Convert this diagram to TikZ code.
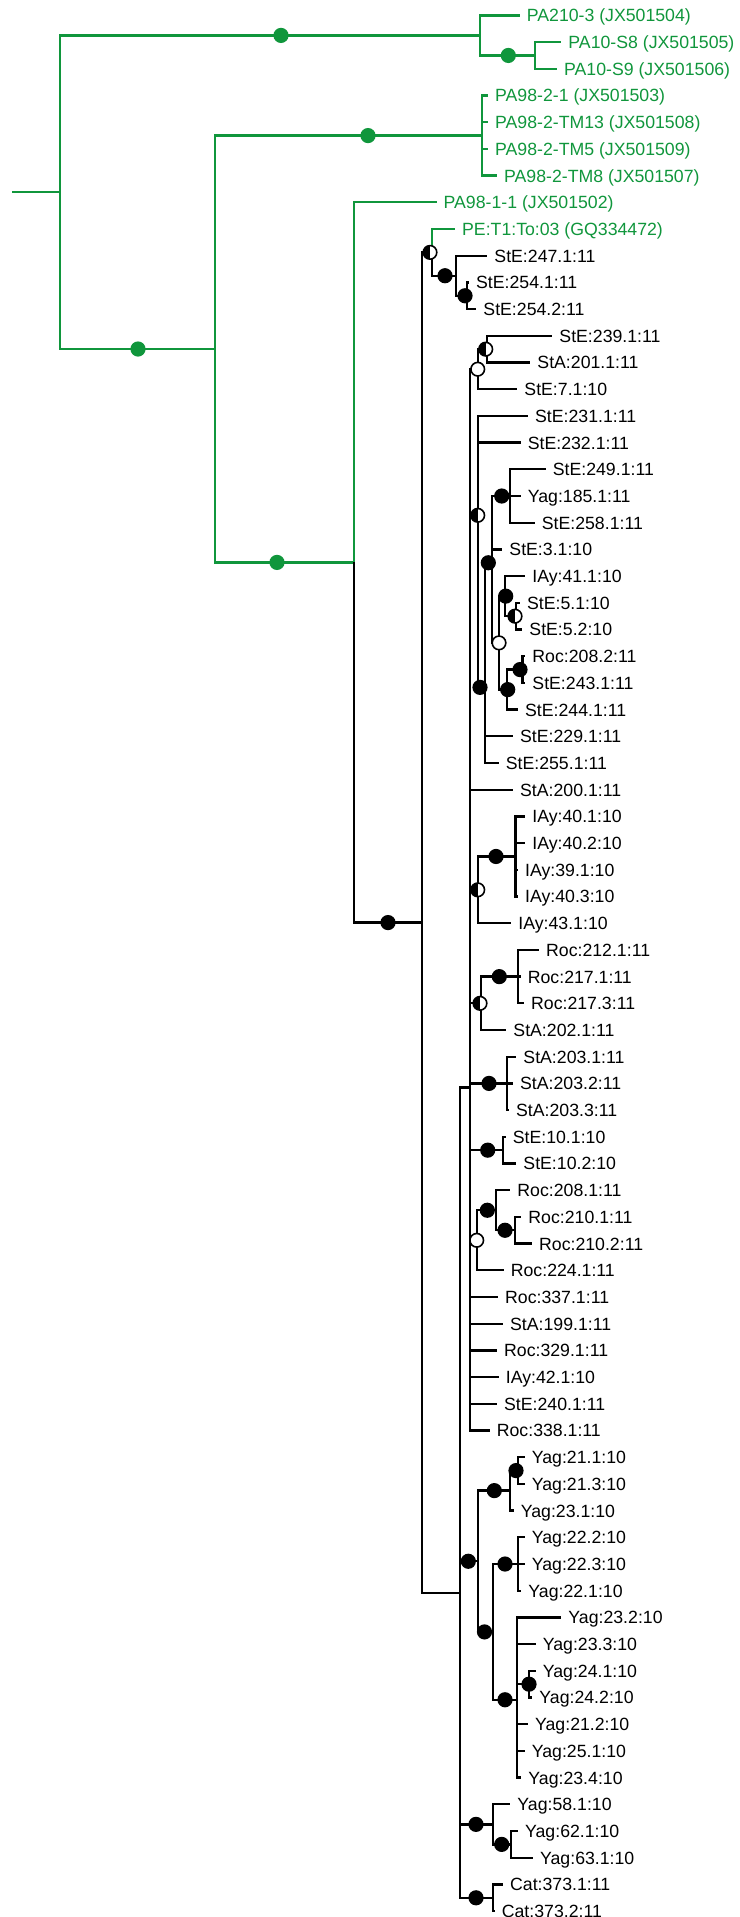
\documentclass[tikz,border=0pt]{standalone}
\usepackage{fontspec}
\setmainfont{Liberation Sans}
\definecolor{tgreen}{RGB}{16,150,60}

\begin{document}
\begin{tikzpicture}[x=0.5pt, y=-13.35pt, line width=1.15pt,
		gbr/.style={draw=tgreen},
		lf/.style={anchor=west, inner xsep=3pt, inner ysep=0pt, text height=6.4pt, text depth=0pt, font=\fontsize{8.85}{10}\selectfont},
		glf/.style={lf, text=tgreen},
		bdot/.style={circle, fill=black, inner sep=0pt, minimum size=7.6pt},
		wdot/.style={circle, draw=black, line width=0.8pt, fill=white, inner sep=0pt, minimum size=6.8pt},
		hdot/.style={wdot, path picture={\fill[black] (path picture bounding box.south) rectangle (path picture bounding box.north west);}},
		gdot/.style={circle, fill=tgreen, inner sep=0pt, minimum size=7.6pt}]
		\useasboundingbox (0,-0.577) rectangle (739,71.22);
		% internal nodes (x in px, y in rows)
		\coordinate (base) at (12,6.622);
		\coordinate (root) at (60,6.622);
		\coordinate (g1)   at (480,0.75);
		\coordinate (n10)  at (535,1.5);
		\coordinate (gm)   at (215,12.494);
		\coordinate (g2)   at (481.7,4.5);
		\coordinate (gb)   at (354,20.487);
		\coordinate (m)    at (421.7,33.975);
		\coordinate (p)    at (431.7,8.875);
		\coordinate (q)    at (456,9.75);
		\coordinate (r)    at (466.7,10.5);
		\coordinate (nbig) at (460,59.074);
		\coordinate (poly) at (470,40.15);
		\coordinate (a)    at (477.7,13.25);
		\coordinate (b)    at (486.7,12.5);
		\coordinate (c)    at (477.7,18.722);
		\coordinate (h)    at (485,25.167);
		\coordinate (i)    at (492,20.5);
		\coordinate (d)    at (510,18);
		\coordinate (j)    at (499,23.5);
		\coordinate (f)    at (505,21.75);
		\coordinate (mp)   at (516,22.5);
		\coordinate (k)    at (506.7,25.25);
		\coordinate (lp)   at (522.5,24.5);
		\coordinate (s)    at (477.7,32.75);
		\coordinate (t40)  at (515.5,31.5);
		\coordinate (u)    at (480.7,37);
		\coordinate (t)    at (518.3,36);
		\coordinate (st203) at (506.7,40);
		\coordinate (st10) at (503.3,42.5);
		\coordinate (w)    at (477.3,45.875);
		\coordinate (v)    at (496,44.75);
		\coordinate (ro210) at (515,45.5);
		\coordinate (bb)   at (478.3,57.896);
		\coordinate (x)    at (510,55.25);
		\coordinate (y21)  at (518.3,54.5);
		\coordinate (aa)   at (492.7,60.542);
		\coordinate (y22)  at (518.3,58);
		\coordinate (z)    at (517.3,63.083);
		\coordinate (y24)  at (529.3,62.5);
		\coordinate (cc)   at (492.7,67.75);
		\coordinate (dd)   at (511,68.5);
		\coordinate (cat)  at (493.3,70.5);
		% leaves
		\node[glf] (l0) at (519.7,0) {PA210-3 (JX501504)};
		\node[glf] (l1) at (561.3,1) {PA10-S8 (JX501505)};
		\node[glf] (l2) at (557,2) {PA10-S9 (JX501506)};
		\node[glf] (l3) at (488,3) {PA98-2-1 (JX501503)};
		\node[glf] (l4) at (488,4) {PA98-2-TM13 (JX501508)};
		\node[glf] (l5) at (488,5) {PA98-2-TM5 (JX501509)};
		\node[glf] (l6) at (497,6) {PA98-2-TM8 (JX501507)};
		\node[glf] (l7) at (436.5,7) {PA98-1-1 (JX501502)};
		\node[glf] (l8) at (455,8) {PE:T1:To:03 (GQ334472)};
		\node[lf] (l9)  at (487.3,9)  {StE:247.1:11};
		\node[lf] (l10) at (469,10)   {StE:254.1:11};
		\node[lf] (l11) at (476.3,11) {StE:254.2:11};
		\node[lf] (l12) at (552.3,12) {StE:239.1:11};
		\node[lf] (l13) at (530.3,13) {StA:201.1:11};
		\node[lf] (l14) at (517.3,14) {StE:7.1:10};
		\node[lf] (l15) at (528,15)   {StE:231.1:11};
		\node[lf] (l16) at (520.7,16) {StE:232.1:11};
		\node[lf] (l17) at (545.7,17) {StE:249.1:11};
		\node[lf] (l18) at (520.7,18) {Yag:185.1:11};
		\node[lf] (l19) at (534.7,19) {StE:258.1:11};
		\node[lf] (l20) at (502.3,20) {StE:3.1:10};
		\node[lf] (l21) at (525.3,21) {IAy:41.1:10};
		\node[lf] (l22) at (520,22)   {StE:5.1:10};
		\node[lf] (l23) at (522.3,23) {StE:5.2:10};
		\node[lf] (l24) at (525.3,24) {Roc:208.2:11};
		\node[lf] (l25) at (525.3,25) {StE:243.1:11};
		\node[lf] (l26) at (518,26)   {StE:244.1:11};
		\node[lf] (l27) at (513,27)   {StE:229.1:11};
		\node[lf] (l28) at (498.7,28) {StE:255.1:11};
		\node[lf] (l29) at (513,29)   {StA:200.1:11};
		\node[lf] (l30) at (525.3,30) {IAy:40.1:10};
		\node[lf] (l31) at (525.3,31) {IAy:40.2:10};
		\node[lf] (l32) at (518,32)   {IAy:39.1:10};
		\node[lf] (l33) at (518,33)   {IAy:40.3:10};
		\node[lf] (l34) at (511.3,34) {IAy:43.1:10};
		\node[lf] (l35) at (539,35)   {Roc:212.1:11};
		\node[lf] (l36) at (520.7,36) {Roc:217.1:11};
		\node[lf] (l37) at (524,37)   {Roc:217.3:11};
		\node[lf] (l38) at (506.3,38) {StA:202.1:11};
		\node[lf] (l39) at (516.3,39) {StA:203.1:11};
		\node[lf] (l40) at (513,40)   {StA:203.2:11};
		\node[lf] (l41) at (509,41)   {StA:203.3:11};
		\node[lf] (l42) at (505.7,42) {StE:10.1:10};
		\node[lf] (l43) at (516.3,43) {StE:10.2:10};
		\node[lf] (l44) at (510.3,44) {Roc:208.1:11};
		\node[lf] (l45) at (521.3,45) {Roc:210.1:11};
		\node[lf] (l46) at (532,46)   {Roc:210.2:11};
		\node[lf] (l47) at (503.7,47) {Roc:224.1:11};
		\node[lf] (l48) at (498,48)   {Roc:337.1:11};
		\node[lf] (l49) at (503,49)   {StA:199.1:11};
		\node[lf] (l50) at (497,50)   {Roc:329.1:11};
		\node[lf] (l51) at (498.7,51) {IAy:42.1:10};
		\node[lf] (l52) at (497,52)   {StE:240.1:11};
		\node[lf] (l53) at (489.7,53) {Roc:338.1:11};
		\node[lf] (l54) at (524.7,54) {Yag:21.1:10};
		\node[lf] (l55) at (524.7,55) {Yag:21.3:10};
		\node[lf] (l56) at (513.7,56) {Yag:23.1:10};
		\node[lf] (l57) at (524.7,57) {Yag:22.2:10};
		\node[lf] (l58) at (524.7,58) {Yag:22.3:10};
		\node[lf] (l59) at (521.3,59) {Yag:22.1:10};
		\node[lf] (l60) at (561.3,60) {Yag:23.2:10};
		\node[lf] (l61) at (535.7,61) {Yag:23.3:10};
		\node[lf] (l62) at (535.7,62) {Yag:24.1:10};
		\node[lf] (l63) at (532.3,63) {Yag:24.2:10};
		\node[lf] (l64) at (528,64)   {Yag:21.2:10};
		\node[lf] (l65) at (524.7,65) {Yag:25.1:10};
		\node[lf] (l66) at (521.3,66) {Yag:23.4:10};
		\node[lf] (l67) at (510.3,67) {Yag:58.1:10};
		\node[lf] (l68) at (518,68)   {Yag:62.1:10};
		\node[lf] (l69) at (533,69)   {Yag:63.1:10};
		\node[lf] (l70) at (503,70)   {Cat:373.1:11};
		\node[lf] (l71) at (494.7,71) {Cat:373.2:11};
		% green branches
		\draw[gbr] (base) -- (root) (root) |- (g1) (root) |- (gm);
		\draw[gbr] (g1) |- (l0.west) (g1) |- (n10) (n10) |- (l1.west) (n10) |- (l2.west);
		\draw[gbr] (gm) |- (g2) (gm) |- (gb);
		\draw[gbr] (g2) |- (l3.west) (g2) |- (l4.west) (g2) |- (l5.west) (g2) |- (l6.west);
		\draw[gbr] (gb) |- (l7.west);
		\draw[gbr] (p) |- (l8.west);
		% black branches
		\draw (gb) |- (m) (m) |- (p) (m) |- (nbig);
		\draw (p) |- (q) (q) |- (l9.west) (q) |- (r) (r) |- (l10.west) (r) |- (l11.west);
		\draw (nbig) |- (poly) (nbig) |- (bb) (nbig) |- (cc) (nbig) |- (cat);
		\draw (poly) |- (a) (poly) |- (c) (poly) |- (l29.west) (poly) |- (s) (poly) |- (u)
			(poly) |- (st203) (poly) |- (st10) (poly) |- (w) (poly) |- (l48.west) (poly) |- (l49.west)
			(poly) |- (l50.west) (poly) |- (l51.west) (poly) |- (l52.west) (poly) |- (l53.west);
		\draw (a) |- (b) (a) |- (l14.west) (b) |- (l12.west) (b) |- (l13.west);
		\draw (c) |- (l15.west) (c) |- (l16.west) (c) |- (h);
		\draw (h) |- (i) (h) |- (l27.west) (h) |- (l28.west);
		\draw (i) |- (d) (i) |- (l20.west) (i) |- (j);
		\draw (d) |- (l17.west) (d) |- (l18.west) (d) |- (l19.west);
		\draw (j) |- (f) (j) |- (k) (f) |- (l21.west) (f) |- (mp) (mp) |- (l22.west) (mp) |- (l23.west);
		\draw (k) |- (lp) (k) |- (l26.west) (lp) |- (l24.west) (lp) |- (l25.west);
		\draw (s) |- (t40) (s) |- (l34.west) (t40) |- (l30.west) (t40) |- (l31.west) (t40) |- (l32.west) (t40) |- (l33.west);
		\draw (u) |- (t) (u) |- (l38.west) (t) |- (l35.west) (t) |- (l36.west) (t) |- (l37.west);
		\draw (st203) |- (l39.west) (st203) |- (l40.west) (st203) |- (l41.west);
		\draw (st10) |- (l42.west) (st10) |- (l43.west);
		\draw (w) |- (v) (w) |- (l47.west) (v) |- (l44.west) (v) |- (ro210) (ro210) |- (l45.west) (ro210) |- (l46.west);
		\draw (bb) |- (x) (bb) |- (aa) (x) |- (y21) (x) |- (l56.west) (y21) |- (l54.west) (y21) |- (l55.west);
		\draw (aa) |- (y22) (aa) |- (z) (y22) |- (l57.west) (y22) |- (l58.west) (y22) |- (l59.west);
		\draw (z) |- (l60.west) (z) |- (l61.west) (z) |- (y24) (z) |- (l64.west) (z) |- (l65.west) (z) |- (l66.west)
			(y24) |- (l62.west) (y24) |- (l63.west);
		\draw (cc) |- (l67.west) (cc) |- (dd) (dd) |- (l68.west) (dd) |- (l69.west);
		\draw (cat) |- (l70.west) (cat) |- (l71.west);
		% support dots
		\node[gdot] (dg1) at (281,0.75) {};
		\node[gdot] (dn10) at (508.3,1.5) {};
		\node[gdot] (dg2) at (368,4.5) {};
		\node[gdot] (dgm) at (138,12.494) {};
		\node[gdot] (dgb) at (277,20.487) {};
		\node[bdot] (dm) at (388,33.975) {};
		\node[hdot] (dp) at (430,8.875) {};
		\node[bdot] (dq) at (445,9.75) {};
		\node[bdot] (dr) at (465,10.5) {};
		\node[wdot] (da) at (477.7,13.25) {};
		\node[hdot] (db) at (485.7,12.5) {};
		\node[hdot] (dc) at (477.7,18.722) {};
		\node[bdot] (dd1) at (501.7,18) {};
		\node[bdot] (di) at (488.3,20.5) {};
		\node[bdot] (df) at (505.7,21.75) {};
		\node[hdot] (dmp) at (515,22.5) {};
		\node[wdot] (dj) at (499,23.5) {};
		\node[bdot] (dlp) at (520,24.5) {};
		\node[bdot] (dk) at (507.7,25.25) {};
		\node[bdot] (dh) at (480,25.167) {};
		\node[bdot] (dt40) at (496,31.5) {};
		\node[hdot] (ds) at (477.7,32.75) {};
		\node[bdot] (dt) at (499.3,36) {};
		\node[hdot] (du) at (480,37) {};
		\node[bdot] (dst203) at (489,40) {};
		\node[bdot] (dst10) at (487.7,42.5) {};
		\node[bdot] (dv) at (487.3,44.75) {};
		\node[bdot] (dro210) at (505,45.5) {};
		\node[wdot] (dw) at (476.7,45.875) {};
		\node[bdot] (dy21) at (516,54.5) {};
		\node[bdot] (dx) at (494.3,55.25) {};
		\node[bdot] (dy22) at (505,58) {};
		\node[bdot] (daa) at (484.5,60.542) {};
		\node[bdot] (dbb) at (468.3,57.896) {};
		\node[bdot] (dz) at (505,63.083) {};
		\node[bdot] (dy24) at (529,62.5) {};
		\node[bdot] (dcc) at (476,67.75) {};
		\node[bdot] (ddd) at (501.7,68.5) {};
		\node[bdot] (dcat) at (476,70.5) {};
	\end{tikzpicture}
\end{document}
